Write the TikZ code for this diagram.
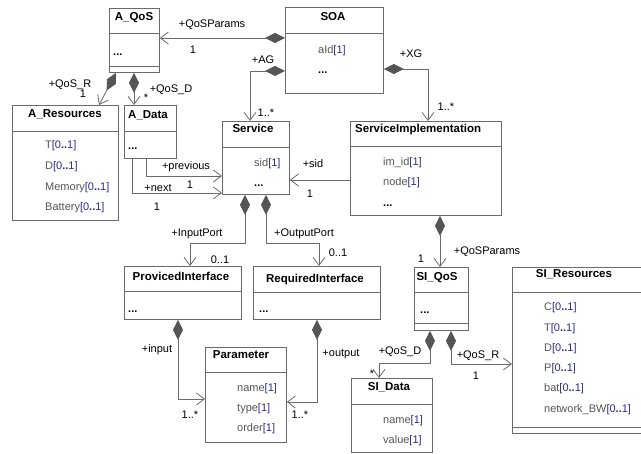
\documentclass[tikz,border=0pt]{standalone}
\usepackage{fontspec}
\setmainfont{Liberation Sans}
\usetikzlibrary{arrows.meta,positioning}
\definecolor{boxgray}{HTML}{6A6A6A}
\definecolor{attrgray}{HTML}{555555}
\definecolor{multblue}{HTML}{2A2A90}
\definecolor{diamgray}{HTML}{555555}
\newcommand{\mlt}[1]{\textcolor{multblue}{[#1]}}
\newcommand{\rng}{\mlt{0\textbf{..}1}}

\begin{document}
\begin{tikzpicture}[x=1pt,y=-1pt,font=\fontsize{11}{13}\selectfont,
    cls/.style={draw=boxgray, line width=0.8pt, anchor=north west, inner sep=0pt},
    sepline/.style={draw=boxgray, line width=0.8pt},
    ctitle/.style={anchor=base, inner sep=0pt, font=\fontsize{11.5}{13}\selectfont\bfseries},
    attr/.style={anchor=base west, inner sep=0pt, text=attrgray},
    lbl/.style={anchor=base, inner sep=0pt},
    comp/.style={draw=boxgray, line width=0.8pt,
        {Diamond[length=20pt,width=10pt,color=diamgray,fill=diamgray]}-{Straight Barb[length=8pt,width=12pt]}},
    assoc/.style={draw=boxgray, line width=0.8pt, -{Straight Barb[length=8pt,width=12pt]}}]
    \useasboundingbox (0,0) rectangle (641,454);

    % Class boxes
    \node[cls, minimum width=50pt, minimum height=64pt] (aqos) at (109,8) {};
    \node[cls, minimum width=98pt, minimum height=86pt] (soa) at (285,7) {};
    \node[cls, minimum width=106pt, minimum height=115pt] (ares) at (12,105) {};
    \node[cls, minimum width=52pt, minimum height=53pt] (adata) at (124,105) {};
    \node[cls, minimum width=67pt, minimum height=73pt] (service) at (222,121) {};
    \node[cls, minimum width=151pt, minimum height=94pt] (simpl) at (350,121) {};
    \node[cls, minimum width=117pt, minimum height=53pt] (pif) at (124,266) {};
    \node[cls, minimum width=127pt, minimum height=53pt] (rif) at (253,266) {};
    \node[cls, minimum width=81pt, minimum height=95pt] (param) at (205,347) {};
    \node[cls, minimum width=81pt, minimum height=74pt] (sidata) at (351,378) {};
    \node[cls, minimum width=54pt, minimum height=63pt] (siqos) at (414,267) {};
    \node[cls, minimum width=133pt, minimum height=166pt] (sires) at (512,267) {};

    % Compartment lines
    \foreach \b/\y in {aqos/33, aqos/66, soa/33, ares/131, adata/131, service/147,
        simpl/146, pif/291, rif/292, param/372, sidata/404, siqos/292, siqos/323,
        sires/292, sires/427}
        \draw[sepline] (\b.west |- 0,\y) -- (\b.east |- 0,\y);

    % Class names
    \node[ctitle] (aqos-t) at (134,21) {A\_QoS};
    \node[ctitle] (soa-t) at (333,21) {SOA};
    \node[ctitle] (ares-t) at (65,118) {A\_Resources};
    \node[ctitle, anchor=base west] (adata-t) at (128,119) {A\_Data};
    \node[ctitle] (service-t) at (253,133) {Service};
    \node[ctitle, anchor=base west] (simpl-t) at (355,133) {ServiceImplementation};
    \node[ctitle] (pif-t) at (181,281) {ProvicedInterface};
    \node[ctitle] (rif-t) at (315,283) {RequiredInterface};
    \node[ctitle] (param-t) at (241,359) {Parameter};
    \node[ctitle] (sidata-t) at (389,391) {SI\_Data};
    \node[ctitle] (siqos-t) at (437,281) {SI\_QoS};
    \node[ctitle] (sires-t) at (574,278) {SI\_Resources};

    % Attributes
    \node[attr] (soa-a1) at (318,54) {aId\mlt{1}};
    \node[attr, text=black] (soa-a2) at (318,74) {\textbf{...}};
    \node[attr, text=black] (aqos-a1) at (113,56) {\textbf{...}};
    \node[attr] (ares-a1) at (45,149) {T\rng};
    \node[attr] (ares-a2) at (45,170) {D\rng};
    \node[attr] (ares-a3) at (45,191) {Memory\rng};
    \node[attr] (ares-a4) at (45,211) {Battery\rng};
    \node[attr, text=black] (adata-a1) at (128,150) {\textbf{...}};
    \node[attr] (service-a1) at (254,167) {sid\mlt{1}};
    \node[attr, text=black] (service-a2) at (254,187) {\textbf{...}};
    \node[attr] (simpl-a1) at (383,166) {im\_id\mlt{1}};
    \node[attr] (simpl-a2) at (383,186) {node\mlt{1}};
    \node[attr, text=black] (simpl-a3) at (383,207) {\textbf{...}};
    \node[attr, text=black] (pif-a1) at (128,313) {\textbf{...}};
    \node[attr, text=black] (rif-a1) at (259,313) {\textbf{...}};
    \node[attr] (param-a1) at (237,392) {name\mlt{1}};
    \node[attr] (param-a2) at (237,412) {type\mlt{1}};
    \node[attr] (param-a3) at (237,432) {order\mlt{1}};
    \node[attr] (sidata-a1) at (383,424) {name\mlt{1}};
    \node[attr] (sidata-a2) at (383,444) {value\mlt{1}};
    \node[attr, text=black] (siqos-a1) at (420,314) {\textbf{...}};
    \node[attr] (sires-a1) at (544,311) {C\rng};
    \node[attr] (sires-a2) at (544,332) {T\rng};
    \node[attr] (sires-a3) at (544,352) {D\rng};
    \node[attr] (sires-a4) at (544,372) {P\rng};
    \node[attr] (sires-a5) at (544,392) {bat\rng};
    \node[attr] (sires-a6) at (544,413) {network\_BW\rng};

    % SOA associations
    \draw[comp] (soa.west |- 0,38) -- (aqos.east |- 0,38);
    \node[lbl] (l-qp) at (212,28) {+QoSParams};
    \node[lbl] (m-qp) at (193,54) {1};
    \draw[comp] (soa.west |- 0,71) -| (service.north -| 250,0);
    \node[lbl] (l-ag) at (263,64) {+AG};
    \node[lbl] (m-ag) at (266,117) {1..*};
    \draw[comp] (soa.east |- 0,69) -| (simpl.north -| 428,0);
    \node[lbl] (l-xg) at (411,58) {+XG};
    \node[lbl] (m-xg) at (446,111) {1..*};

    % A_QoS associations
    \draw[comp] (aqos.south -| 116,0) -- (ares.north -| 99,0);
    \node[lbl] (l-qr) at (70,88) {+QoS\_R};
    \node[lbl] (m-qr) at (83,98) {1};
    \draw[comp] (aqos.south -| 134,0) -- (adata.north -| 134,0);
    \node[lbl] (l-qd) at (171,93) {+QoS\_D};
    \node[lbl] (m-qd) at (146,102) {*};

    % A_Data to Service
    \draw[assoc] (adata.south -| 146,0) |- (service.west |- 0,176);
    \node[lbl] (l-prev) at (186,170) {+previous};
    \node[lbl] (m-prev) at (190,189) {1};
    \draw[assoc] (adata.south -| 132,0) |- (service.west |- 0,193);
    \node[lbl] (l-next) at (158,192) {+next};
    \node[lbl] (m-next) at (157,211) {1};

    % ServiceImplementation associations
    \draw[assoc] (simpl.west |- 0,180) -- (service.east |- 0,180);
    \node[lbl] (l-sid) at (313,168) {+sid};
    \node[lbl] (m-sid) at (310,198) {1};
    \draw[comp] (simpl.south -| 440,0) -- (siqos.north -| 440,0);
    \node[lbl] (l-sqp) at (487,255) {+QoSParams};
    \node[lbl] (m-sqp) at (421,263) {1};

    % Ports
    \draw[comp] (service.south -| 245,0) -- ++(0,49) -| (pif.north -| 190,0);
    \node[lbl] (l-in) at (197,237) {+InputPort};
    \node[lbl] (m-in) at (220,264) {0..1};
    \draw[comp] (service.south -| 266,0) -- ++(0,49) -| (rif.north -| 319,0);
    \node[lbl] (l-out) at (304,237) {+OutputPort};
    \node[lbl] (m-out) at (338,257) {0..1};

    % Parameters
    \draw[comp] (pif.south -| 178,0) |- (param.west |- 0,399);
    \node[lbl] (l-inp) at (157,353) {+input};
    \node[lbl] (m-inp) at (190,419) {1..*};
    \draw[comp] (rif.south -| 317,0) |- (param.east |- 0,402);
    \node[lbl] (l-outp) at (341,357) {+output};
    \node[lbl] (m-outp) at (300,419) {1..*};

    % SI_QoS associations
    \draw[comp] (siqos.south -| 430,0) -- ++(0,33) -| (sidata.north -| 379,0);
    \node[lbl] (l-sqd) at (400,355) {+QoS\_D};
    \node[lbl] (m-sqd) at (372,378) {*};
    \draw[comp] (siqos.south -| 451,0) |- (sires.west |- 0,364);
    \node[lbl] (l-sqr) at (478,359) {+QoS\_R};
    \node[lbl] (m-sqr) at (476,380) {1};
\end{tikzpicture}
\end{document}
